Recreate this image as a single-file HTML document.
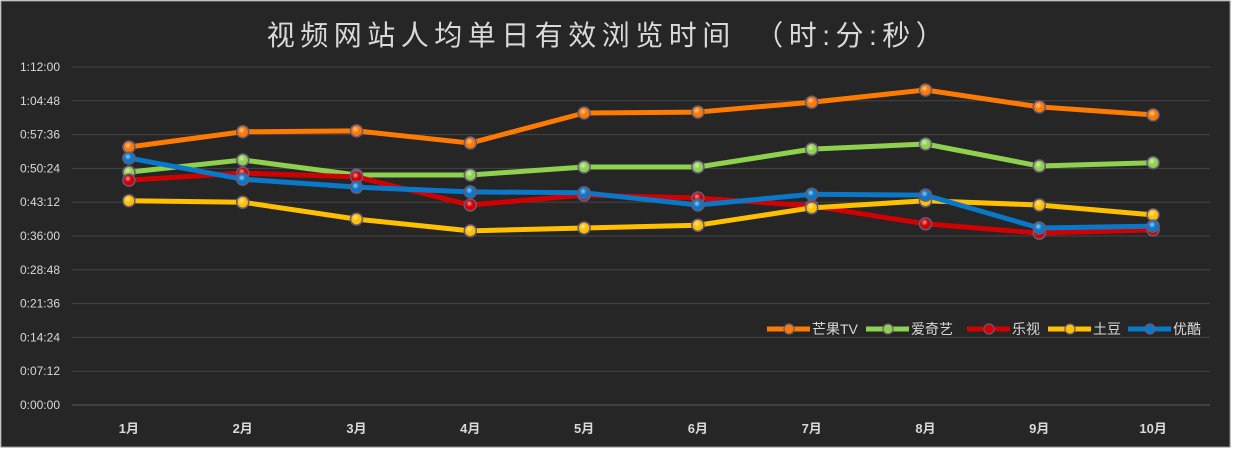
<!DOCTYPE html>
<html><head><meta charset="utf-8"><style>
html,body{margin:0;padding:0;background:#fff;width:1233px;height:450px;overflow:hidden}
</style></head><body>
<svg id="c" width="1233" height="450" xmlns="http://www.w3.org/2000/svg" style="font-family:'Liberation Sans','Noto Sans CJK SC',sans-serif">
<defs>
<radialGradient id="g" cx="40%" cy="35%" r="70%"><stop offset="0" stop-color="#fff" stop-opacity="0.6"/><stop offset="0.5" stop-color="#fff" stop-opacity="0"/></radialGradient>
</defs>
<rect x="1" y="1" width="1229" height="446" fill="#262626" stroke="#888" stroke-width="1"/>
<text x="608" y="45" text-anchor="middle" fill="#d9d9d9" font-size="28" letter-spacing="5.5">视频网站人均单日有效浏览时间　（时:分:秒）</text>
<g id="grid"></g><g id="lines"></g><g id="legend"></g>
</svg>
<script>
const categories=["1月","2月","3月","4月","5月","6月","7月","8月","9月","10月"];
const yTicks=["0:00:00","0:07:12","0:14:24","0:21:36","0:28:48","0:36:00","0:43:12","0:50:24","0:57:36","1:04:48","1:12:00"];
const seriesNames=["芒果TV","爱奇艺","乐视","土豆","优酷"];
const mango=[54.96,58.2,58.4,55.8,62.2,62.4,64.5,67.1,63.5,61.8];
const iqiyi=[49.6,52.2,49.0,49.0,50.7,50.7,54.5,55.6,50.9,51.6];
const letv=[47.9,49.4,48.6,42.6,44.7,44.1,42.4,38.6,36.6,37.3];
const tudou=[43.5,43.2,39.6,37.1,37.7,38.3,42.0,43.5,42.6,40.5];
const youku=[52.6,48.1,46.4,45.4,45.2,42.6,44.9,44.7,37.7,38.1];
const colors=["#ff7a00","#8fd14f","#d00000","#ffc000","#0a78c8"];
const NS="http://www.w3.org/2000/svg";
const x0=72,x1=1210,yTop=67,yBot=405,maxMin=72;
const step=(x1-x0)/categories.length;
const X=i=>x0+step*(i+0.5);
const Y=v=>yBot-(v/maxMin)*(yBot-yTop);
function mk(t,a,p){const e=document.createElementNS(NS,t);for(const k in a)e.setAttribute(k,a[k]);p.appendChild(e);return e;}
const grid=document.getElementById('grid');
yTicks.forEach((t,i)=>{const y=Y(i*7.2);
 const l=mk('line',{x1:x0,x2:x1,y1:y,y2:y,stroke:i==0?'#5a5a5a':'#444','stroke-width':1},grid);
 
 
 const tx=mk('text',{x:60,y:y+4,'text-anchor':'end',fill:'#d9d9d9','font-size':12},grid);tx.textContent=t;
 
 
});
categories.forEach((c,i)=>{const tx=mk('text',{x:X(i),y:433,'text-anchor':'middle',fill:'#d9d9d9','font-size':13,'font-weight':'bold'},grid);tx.textContent=c;
 
 
});
const lines=document.getElementById('lines');
[mango,iqiyi,letv,tudou,youku].forEach((d,s)=>{
 const g=mk('g',{},lines);
 
 
 const pl=mk('polyline',{points:d.map((v,i)=>X(i)+','+Y(v)).join(' '),fill:'none',stroke:colors[s],'stroke-width':5,'stroke-linejoin':'round'},g);
 
 
 d.forEach((v,i)=>{const c=mk('circle',{cx:X(i),cy:Y(v),r:6,fill:colors[s],stroke:'#6a5a7a','stroke-width':1.5},g);
  
  
  mk('circle',{cx:X(i),cy:Y(v),r:5,fill:'url(#g)'},g);});
});
const lg=document.getElementById('legend');
const lx=[767,866,967,1048,1128];
seriesNames.forEach((n,s)=>{const x=lx[s],y=329;
 const it=mk('g',{},lg);
 
 
 mk('line',{x1:x,x2:x+43,y1:y,y2:y,stroke:colors[s],'stroke-width':5},it);
 mk('circle',{cx:x+22,cy:y,r:5,fill:colors[s],stroke:'#6a5a7a','stroke-width':1.2},it);
 const t=mk('text',{x:x+45,y:y+5,fill:'#d9d9d9','font-size':14},it);t.textContent=n;
});
</script>
</body></html>
